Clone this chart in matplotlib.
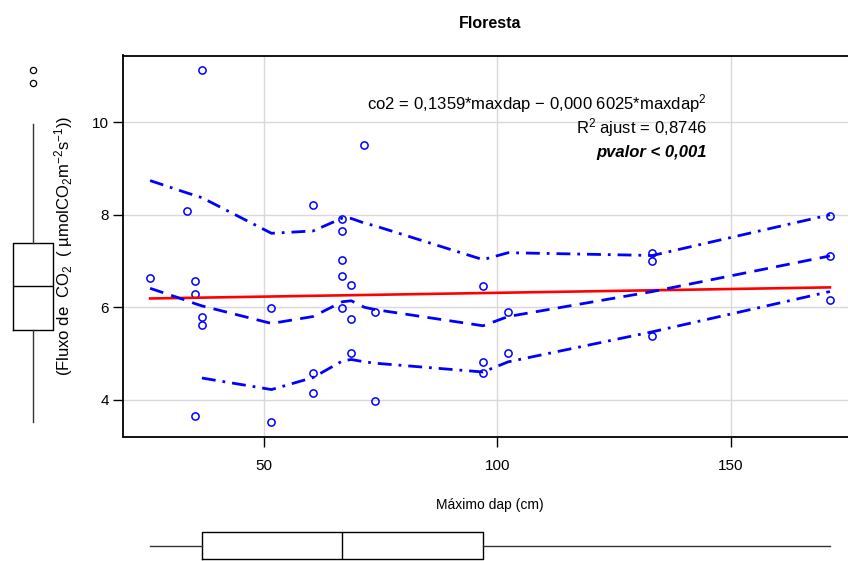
import numpy as np
import matplotlib
matplotlib.use("Agg")
import matplotlib.pyplot as plt

plt.rcParams['font.family'] = ['Liberation Sans', 'DejaVu Sans']
plt.rcParams['mathtext.fontset'] = 'custom'
plt.rcParams['mathtext.rm'] = 'Liberation Sans'
plt.rcParams['mathtext.it'] = 'Liberation Sans:italic'
plt.rcParams['mathtext.bf'] = 'Liberation Sans:bold'

# observations: maximum dap (cm) and CO2 flux
maxdap = [25.6, 33.6, 35.2, 35.2, 35.2, 36.7, 36.7, 36.7, 51.6, 51.6,
          60.5, 60.5, 60.5, 66.8, 66.8, 66.8, 66.8, 66.8, 68.7, 68.7,
          68.7, 71.5, 73.8, 73.8, 96.9, 96.9, 96.9, 102.3, 102.3,
          133.2, 133.2, 133.2, 171.2, 171.2, 171.2]
co2 = [6.63, 8.09, 6.57, 6.29, 3.64, 11.14, 5.79, 5.62, 5.99, 3.51,
       8.21, 4.57, 4.14, 7.90, 7.65, 7.03, 6.67, 5.99, 6.48, 5.75,
       5.02, 9.52, 5.89, 3.97, 6.46, 4.82, 4.58, 5.90, 5.01,
       7.18, 7.00, 5.38, 7.98, 7.11, 6.15]

# fitted line (end points)
fit_x = [25.6, 171.2]
fit_y = [6.19, 6.43]

# smoother and spread curves
smooth_x = [25.6, 33.6, 35.2, 36.7, 51.6, 60.5, 66.8, 68.7, 71.5, 73.8,
            96.9, 102.3, 133.2, 171.2]
smooth_y = [6.41, 6.14, 6.08, 6.03, 5.65, 5.80, 6.12, 6.14, 6.00, 5.95,
            5.60, 5.80, 6.34, 7.11]
upper_y = [8.74, 8.47, 8.42, 8.37, 7.60, 7.65, 7.93, 7.92, 7.82, 7.76,
           7.03, 7.18, 7.12, 8.00]
lower_x = [36.7, 51.6, 60.5, 66.8, 68.7, 71.5, 73.8, 96.9, 102.3, 133.2, 171.2]
lower_y = [4.47, 4.22, 4.48, 4.84, 4.87, 4.82, 4.79, 4.60, 4.82, 5.47, 6.34]

# marginal boxplot summaries
co2_box = dict(med=6.46, q1=5.51, q3=7.40, whislo=3.51, whishi=9.97,
               fliers=[10.86, 11.14])
dap_box = dict(med=66.8, q1=36.8, q3=97.0, whislo=25.6, whishi=171.2,
               fliers=[])

xlim = (19.8, 177.0)
ylim = (3.205, 11.445)

W, H = 848, 561
fig = plt.figure(figsize=(W / 100, H / 100), dpi=100)

left, right, top, bottom = 123, 857, 55.5, 436.5
ax = fig.add_axes([left / W, 1 - bottom / H, (right - left) / W, (bottom - top) / H])
ax.set_xlim(xlim)
ax.set_ylim(ylim)
ax.set_xticks([50, 100, 150])
ax.set_yticks([4, 6, 8, 10])
ax.grid(True, color='#d9d9d9', lw=1)
ax.set_axisbelow(True)
for s in ax.spines.values():
    s.set_linewidth(1.3)
ax.tick_params(direction='out', length=7, width=1, labelsize=11)
ax.tick_params(axis='x', pad=9)
ax.tick_params(axis='y', pad=3)

ax.plot(maxdap, co2, 'o', ms=5.2, mfc='none', mec='blue', mew=1.1, zorder=3)
ax.plot(fit_x, fit_y, color='red', lw=1.9, zorder=4)
ax.plot(smooth_x, smooth_y, color='blue', lw=2, dashes=(5, 3), zorder=4)
ax.plot(smooth_x, upper_y, color='blue', lw=2, dashes=(5, 2.5, 1, 2.5), zorder=4)
ax.plot(lower_x, lower_y, color='blue', lw=2, dashes=(5, 2.5, 1, 2.5), zorder=4)

ax.set_title('Floresta', fontsize=11.5, fontweight='bold', pad=20)
ax.set_xlabel('Máximo dap (cm)', fontsize=10, labelpad=18)
ax.set_ylabel(r'(Fluxo de  CO$_2$  ( µmolCO$_2$m$^{-2}$s$^{-1}$))', fontsize=12, labelpad=12)

ax.text(0.7956, 0.875, r'co2$\,=\,$0,1359*maxdap$\,-\,$0,000 6025*maxdap$^2$',
        transform=ax.transAxes, ha='right', va='center', fontsize=12)
ax.text(0.7956, 0.810, r'R$^2$ ajust$\,=\,$0,8746',
        transform=ax.transAxes, ha='right', va='center', fontsize=12)
ax.text(0.7956, 0.745, 'pvalor < 0,001', transform=ax.transAxes, ha='right',
        va='center', fontsize=12, fontweight='bold', fontstyle='italic')

box_style = dict(showcaps=False, patch_artist=False,
                 boxprops=dict(color='black', lw=1),
                 medianprops=dict(color='black', lw=1),
                 whiskerprops=dict(color='#333333', lw=1),
                 flierprops=dict(marker='o', ms=4.5, mfc='none', mec='black', mew=0.9))

# boxplot of co2 on the left
axl = fig.add_axes([5 / W, 1 - bottom / H, 56 / W, (bottom - top) / H])
axl.bxp([co2_box], positions=[0], widths=0.73, **box_style)
axl.set_ylim(ylim)
axl.set_xlim(-0.5, 0.5)
axl.axis('off')

# boxplot of maxdap at the bottom
axb = fig.add_axes([left / W, 0, (right - left) / W, 31 / H])
axb.bxp([dap_box], positions=[0], widths=0.87, vert=False, **box_style)
axb.set_xlim(xlim)
axb.set_ylim(-0.5, 0.5)
axb.axis('off')

fig.savefig('out.png', dpi=100)
